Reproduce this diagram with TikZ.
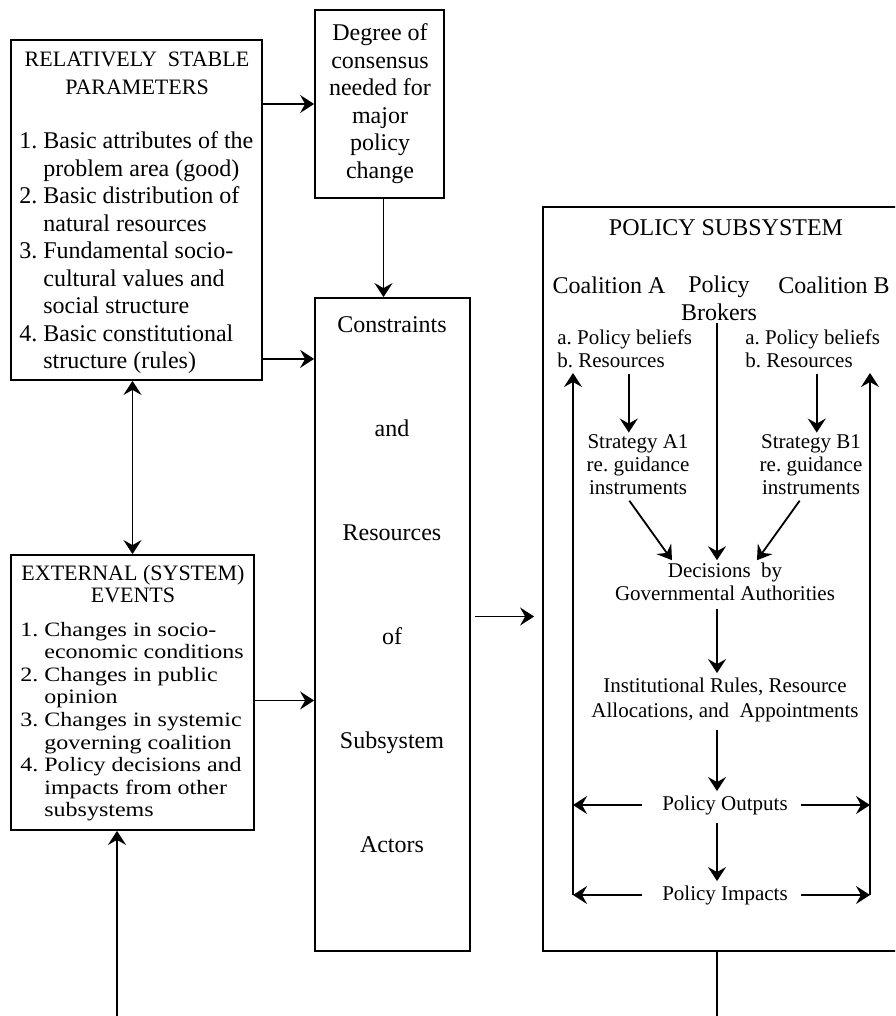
\documentclass[tikz,border=0pt]{standalone}
\usepackage{fontspec}
\setmainfont{Liberation Serif}
\usetikzlibrary{arrows.meta}
\frenchspacing
\tikzset{
  box/.style={draw, line width=0.9pt, inner sep=0pt},
  txt/.style={inner sep=1pt, align=center, font=\fontsize{12}{13.75}\selectfont},
  small/.style={inner sep=1pt, align=center, font=\fontsize{10.5}{11.5}\selectfont},
  arr/.style={line width=0.9pt, -{Stealth[length=7pt, width=9pt, inset=2.5pt]}},
  arrboth/.style={line width=0.9pt, {Stealth[length=7pt, width=9pt, inset=2.5pt]}-{Stealth[length=7pt, width=9pt, inset=2.5pt]}},
  flow/.style={arr, shorten <=3pt, shorten >=1pt},
}

\begin{document}
\begin{tikzpicture}[x=0.5pt, y=-0.5pt]
  \useasboundingbox (0,0) rectangle (895,1016);
  \clip (0,0) rectangle (895,1016);

  % boxes
  \node[box, minimum width=125.5pt, minimum height=170pt] (rsp) at (136.5,210) {};
  \node[box, minimum width=64.5pt, minimum height=94pt] (degree) at (379.5,104) {};
  \node[box, minimum width=77.5pt, minimum height=326.5pt] (crs) at (392.5,624.5) {};
  \node[box, minimum width=121.5pt, minimum height=137.5pt] (ext) at (132.5,692.5) {};
  \node[box, minimum width=188.5pt, minimum height=372pt] (sub) at (731.5,579) {};

  % left column texts
  \node[txt, font=\fontsize{11}{13.75}\selectfont] (rspT) at (137,73.5) {RELATIVELY~ STABLE\\PARAMETERS};
  \node[txt, anchor=west, align=left] (rspL) at (17,253) {1. Basic attributes of the\\\hphantom{1. }problem area (good)\\2. Basic distribution of\\\hphantom{1. }natural resources\\3. Fundamental socio-\\\hphantom{1. }cultural values and\\\hphantom{1. }social structure\\4. Basic constitutional\\\hphantom{1. }structure (rules)};
  \node[txt] (degT) at (380,103.5) {Degree of\\consensus\\needed for\\major\\policy\\change};
  \node[txt, font=\fontsize{12}{52}\selectfont] (crsT) at (392,585) {Constraints\\and\\Resources\\of\\Subsystem\\Actors};
  \node[txt, font=\fontsize{11}{11}\selectfont] (extT) at (133,584) {EXTERNAL (SYSTEM)\\EVENTS};
  \node[txt, anchor=west, font=\fontsize{12}{13.25}\selectfont] (extL) at (18,722) {\scalebox{1}[0.85]{\begin{tabular}{@{}l@{}}1. Changes in socio-\\\hphantom{1. }economic conditions\\2. Changes in public\\\hphantom{1. }opinion\\3. Changes in systemic\\\hphantom{1. }governing coalition\\4. Policy decisions and\\\hphantom{1. }impacts from other\\\hphantom{1. }subsystems\end{tabular}}};

  % policy subsystem texts
  \node[txt] (subT) at (726,228) {POLICY SUBSYSTEM};
  \node[txt] (coA) at (609,285) {Coalition A};
  \node[txt] (brk) at (719,298.5) {Policy\\Brokers};
  \node[txt] (coB) at (834,285) {Coalition B};
  \node[small, anchor=west, align=left] (belA) at (555,348.5) {a. Policy beliefs\\b. Resources};
  \node[small, anchor=west, align=left] (belB) at (743,348.5) {a. Policy beliefs\\b. Resources};
  \node[small] (strA) at (638,465) {Strategy A1\\re. guidance\\instruments};
  \node[small] (strB) at (811,465) {Strategy B1\\re. guidance\\instruments};
  \node[small] (dec) at (725,581.5) {Decisions~ by\\Governmental Authorities};
  \node[small, font=\fontsize{10.5}{12.5}\selectfont] (inst) at (725,699.5) {Institutional Rules, Resource\\Allocations, and~ Appointments};
  \node[small] (out) at (725,805) {Policy Outputs};
  \node[small] (imp) at (725,895) {Policy Impacts};

  \coordinate (lt) at (573,373);
  \coordinate (rt) at (870,373);
  \coordinate (mid) at (717,0);
  \coordinate (fbl) at (117,1016);
  \coordinate (fbr) at (717,1016);

  % connectors between boxes
  \draw[arr] (rsp.east |- degree.west) -- (degree.west);
  \draw[arr] ([yshift=11pt]rsp.south east) coordinate (r1) -- (r1 -| crs.west);
  \draw[arr] ([xshift=2pt]degree.south) -- ([xshift=2pt]degree.south |- crs.north);
  \draw[arrboth] (ext.north) -- (ext.north |- rsp.south);
  \draw[arr] ([yshift=-4pt]ext.east) coordinate (e1) -- (e1 -| crs.west);
  \draw[arr, shorten <=2pt, shorten >=4pt] ([yshift=4pt]crs.east) coordinate (c1) -- (c1 -| sub.west);
  \draw[arr] (fbl) -- (fbl |- ext.south);
  \draw[line width=0.9pt] (sub.south -| fbr) -- (fbr);

  % inside the subsystem
  \draw[arr, shorten <=2pt] ([xshift=2pt]belA.south) -- ([xshift=2pt]belA.south |- strA.north);
  \draw[arr, shorten <=2pt] ([xshift=2pt]belB.south) -- ([xshift=2pt]belB.south |- strB.north);
  \draw[arr] (brk.south -| mid) -- (dec.north -| mid);
  \draw[arr, shorten <=2pt] ([xshift=-5.5pt]strA.south) -- ([xshift=-26.5pt]dec.north);
  \draw[arr, shorten <=2pt] ([xshift=-4.5pt]strB.south) -- ([xshift=16pt]dec.north);
  \draw[flow] (dec.south -| mid) -- (inst.north -| mid);
  \draw[flow] (inst.south -| mid) -- (out.north -| mid);
  \draw[flow] (out.south -| mid) -- (imp.north -| mid);
  \draw[arr] ([xshift=-9pt]out.west) -- (out.west -| lt);
  \draw[arr] ([xshift=5.5pt]out.east) -- (out.east -| rt);
  \draw[arr] ([xshift=-9pt]imp.west) -- (imp.west -| lt);
  \draw[arr] ([xshift=5.5pt]imp.east) -- (imp.east -| rt);
  \draw[arr] (imp.west -| lt) -- (lt);
  \draw[arr] (imp.east -| rt) -- (rt);
\end{tikzpicture}
\end{document}
